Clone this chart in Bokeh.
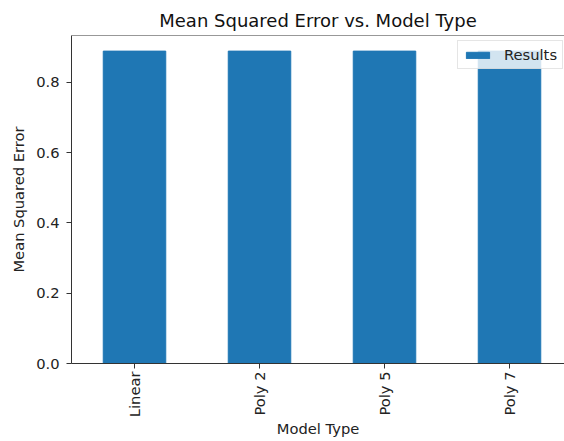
import math
from bokeh.plotting import figure
from bokeh.models import Range1d, FixedTicker, NumeralTickFormatter, Span, Legend, LegendItem, ColumnDataSource
from bokeh.embed import file_html
from bokeh.resources import INLINE

categories = ["Linear", "Poly 2", "Poly 5", "Poly 7"]
results = [0.889, 0.889, 0.889, 0.889]
y_ticks = [0.0, 0.2, 0.4, 0.6, 0.8]

xs = list(range(len(categories)))
src = ColumnDataSource(dict(x=xs, top=results, cat=categories))

y_end = max(results) * 1.05

p = figure(width=564, height=441, output_backend="svg", toolbar_location=None,
           x_range=Range1d(-0.504, 3.44), y_range=Range1d(0, y_end),
           min_border_left=71, min_border_right=0, min_border_top=35, min_border_bottom=78)

r = p.vbar(x="x", top="top", width=0.5, source=src, fill_color="#1f77b4", line_color="#1f77b4")

p.title.text = "Mean Squared Error vs. Model Type"
p.title.text_font = "DejaVu Sans"
p.title.text_font_size = "18px"
p.title.text_font_style = "normal"
p.title.align = "center"
p.title.offset = 4
p.title.text_color = "#111111"
p.title.standoff = 9

p.outline_line_color = None
p.xgrid.visible = False
p.ygrid.visible = False
p.background_fill_color = "white"
p.border_fill_color = "white"

spine_color = "#333333"
top_spine = Span(location=y_end, dimension="width", line_color=spine_color, line_width=1)
p.add_layout(top_spine)

for ax in (p.xaxis[0], p.yaxis[0]):
    ax.axis_line_color = spine_color
    ax.major_tick_line_color = spine_color
    ax.minor_tick_line_color = None
    ax.major_tick_in = 0
    ax.major_tick_out = 5
    ax.major_label_text_font = "DejaVu Sans"
    ax.major_label_text_font_size = "14.7px"
    ax.major_label_text_color = "#222222"
    ax.axis_label_text_font = "DejaVu Sans"
    ax.axis_label_text_font_size = "14.7px"
    ax.axis_label_text_font_style = "normal"
    ax.axis_label_text_color = "#222222"

p.xaxis.ticker = FixedTicker(ticks=xs)
p.xaxis.major_label_overrides = {i: c for i, c in zip(xs, categories)}
p.xaxis.major_label_orientation = math.pi / 2
p.xaxis.major_label_standoff = 3
p.xaxis.axis_label = "Model Type"
p.xaxis.axis_label_standoff = 0

p.yaxis.ticker = FixedTicker(ticks=y_ticks)
p.yaxis.formatter = NumeralTickFormatter(format="0.0")
p.yaxis.major_label_standoff = 7
p.yaxis.axis_label = "Mean Squared Error"
p.yaxis.axis_label_standoff = 6

legend = Legend(items=[LegendItem(label="Results", renderers=[r])],
                location=(386, 294), orientation="vertical",
                label_text_font="DejaVu Sans", label_text_font_size="14.7px",
                label_text_color="#222222",
                glyph_width=29, glyph_height=8, label_standoff=12,
                padding=5, margin=0, spacing=0,
                border_line_color="#cccccc", border_line_width=1,
                background_fill_color="white", background_fill_alpha=0.8)
p.add_layout(legend)

open("out.html", "w").write(file_html(p, INLINE))
